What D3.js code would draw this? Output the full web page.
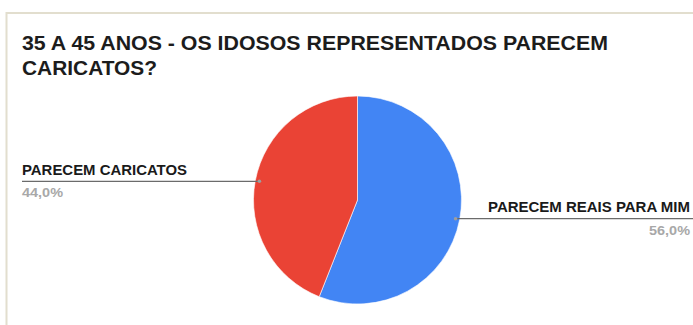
<!DOCTYPE html>
<html>
<head>
<meta charset="utf-8">
<script src="https://cdn.jsdelivr.net/npm/d3@7/dist/d3.min.js"></script>
<style>
  html, body { margin: 0; padding: 0; background: #ffffff; }
  svg { display: block; }
</style>
</head>
<body>
<svg id="chart" width="693" height="325"></svg>
<script>
// Survey answers for the 35–45 age group
const categories = ["PARECEM REAIS PARA MIM", "PARECEM CARICATOS"];
const values = [56.0, 44.0];
const colors = ["#4285f4", "#ea4335"];
const titleLines = ["35 A 45 ANOS - OS IDOSOS REPRESENTADOS PARECEM", "CARICATOS?"];

const W = 693, H = 325;
const svg = d3.select("#chart");

// Panel frame (top and left edges visible)
svg.append("line").attr("x1", 6).attr("x2", W).attr("y1", 13).attr("y2", 13)
  .attr("stroke", "#e2dece").attr("stroke-width", 2);
svg.append("line").attr("x1", 6.5).attr("x2", 6.5).attr("y1", 12).attr("y2", H)
  .attr("stroke", "#e2dece").attr("stroke-width", 2);

// Title
svg.append("g").selectAll("text").data(titleLines).join("text")
  .attr("x", 22)
  .attr("y", (d, i) => 50 + i * 25)
  .attr("font-family", "Liberation Sans, Arial, sans-serif")
  .attr("font-size", 21)
  .attr("font-weight", "bold")
  .attr("fill", "#1c1c1c")
  .attr("textLength", (d, i) => i === 0 ? 586 : 135)
  .attr("lengthAdjust", "spacingAndGlyphs")
  .text(d => d);

// Pie
const cx = 357.5, cy = 200, r = 104;
const pie = d3.pie().sort(null).value(d => d.v);
const arcs = pie(values.map((v, i) => ({ v, name: categories[i], color: colors[i] })));
const arc = d3.arc().innerRadius(0).outerRadius(r);
const g = svg.append("g").attr("transform", `translate(${cx},${cy})`);
g.selectAll("path").data(arcs).join("path")
  .attr("d", arc)
  .attr("fill", d => d.data.color)
  .attr("stroke", "#ffffff")
  .attr("stroke-width", 0.6);

// Leader lines and labels
const fmt = v => d3.format(".1f")(v).replace(".", ",") + "%";
const anchorArc = d3.arc().innerRadius(r * 0.96).outerRadius(r * 0.96);

arcs.forEach(d => {
  const [ax, ay] = anchorArc.centroid(d);
  const px = cx + ax, py = cy + ay;
  const right = ax > 0;
  const x2 = right ? W : 22;
  const labelX = right ? 690 : 22;
  const anchor = right ? "end" : "start";

  svg.append("line")
    .attr("x1", px).attr("y1", py).attr("x2", x2).attr("y2", py)
    .attr("stroke", "#6b6b6b").attr("stroke-width", 1.2);
  svg.append("circle").attr("cx", px).attr("cy", py).attr("r", 1.8)
    .attr("fill", "#9e9e9e");

  svg.append("text")
    .attr("x", labelX).attr("y", py - 6.5)
    .attr("text-anchor", anchor)
    .attr("font-family", "Liberation Sans, Arial, sans-serif")
    .attr("font-size", 15)
    .attr("font-weight", "bold")
    .attr("fill", "#1a1a1a")
    .attr("textLength", right ? 202 : 165)
    .attr("lengthAdjust", "spacingAndGlyphs")
    .text(d.data.name);

  svg.append("text")
    .attr("x", labelX).attr("y", py + 16)
    .attr("text-anchor", anchor)
    .attr("font-family", "Liberation Sans, Arial, sans-serif")
    .attr("font-size", 13.5)
    .attr("font-weight", "bold")
    .attr("fill", "#a8a8a8")
    .attr("textLength", 41)
    .attr("lengthAdjust", "spacingAndGlyphs")
    .text(fmt(d.data.v));
});
</script>
</body>
</html>
